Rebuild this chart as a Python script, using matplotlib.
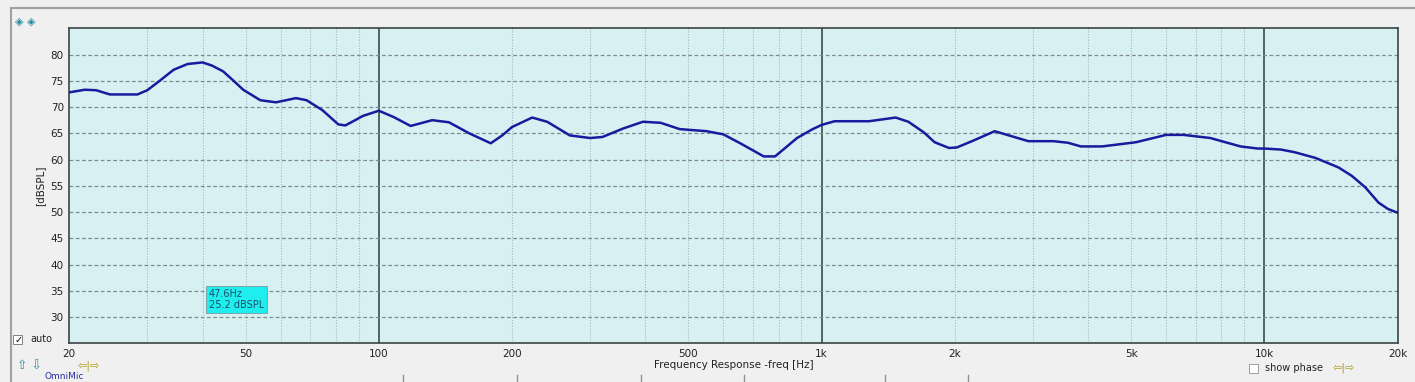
import matplotlib.pyplot as plt
from matplotlib.lines import Line2D
from matplotlib.patches import Rectangle

# frequency response
freq_hz = [20, 21.7, 23, 24.7, 28.5, 30, 32, 34.4, 37, 40, 42, 44.5, 47, 49.4, 54,
           58.6, 65, 68.7, 74.6, 81, 84, 88, 92, 100, 108, 118, 132, 144, 160, 179,
           190, 200, 222, 240, 270, 300, 320, 356, 395, 433, 478, 550, 600, 655, 740,
           785, 830, 880, 950, 1000, 1070, 1280, 1470, 1570, 1700, 1800, 1940, 2020,
           2200, 2460, 2930, 3340, 3600, 3850, 4300, 5130, 6000, 6560, 7550, 8830,
           9650, 10000, 10900, 11700, 13050, 14700, 15750, 16900, 18100, 19000,
           19800, 20000]
spl_db = [72.8, 73.3, 73.2, 72.4, 72.4, 73.2, 75.0, 77.1, 78.2, 78.5, 77.9, 76.8,
          75.0, 73.3, 71.3, 70.9, 71.7, 71.3, 69.4, 66.7, 66.5, 67.4, 68.3, 69.3,
          68.1, 66.4, 67.5, 67.1, 65.0, 63.1, 64.6, 66.2, 68.0, 67.2, 64.6, 64.1,
          64.3, 65.9, 67.2, 67.0, 65.8, 65.4, 64.8, 63.1, 60.6, 60.6, 62.3, 64.1,
          65.7, 66.6, 67.3, 67.3, 68.0, 67.2, 65.2, 63.3, 62.2, 62.3, 63.6, 65.4,
          63.5, 63.5, 63.2, 62.5, 62.5, 63.3, 64.7, 64.7, 64.1, 62.5, 62.1, 62.1,
          61.9, 61.4, 60.3, 58.5, 56.9, 54.7, 51.8, 50.6, 50.0, 49.9]

xticks = [20, 50, 100, 200, 500, 1000, 2000, 5000, 10000, 20000]
xtick_labels = ["20", "50", "100", "200", "500", "1k", "2k", "5k", "10k", "20k"]
yticks = [30, 35, 40, 45, 50, 55, 60, 65, 70, 75, 80]
major_lines = [100, 1000, 10000]
minor_lines = [m * d for d in (10, 100, 1000) for m in range(2, 10)
               if 20 < m * d < 20000]

W, H = 1415, 382
fig = plt.figure(figsize=(W / 100, H / 100), dpi=100, facecolor="#f0f0f0")
ax = fig.add_axes([69.3 / W, 1 - 343.3 / H, (1397.7 - 69.3) / W, (343.3 - 28.3) / H])
ax.set_facecolor("#d7f1f3")

ax.set_xscale("log")
ax.set_xlim(20, 20000)
ax.set_ylim(25, 85)

for f in minor_lines:
    ax.axvline(f, color="#a9b4b8", lw=0.8, ls=(0, (1, 1.5)), zorder=1)
for f in major_lines:
    ax.axvline(f, color="#2e3c3c", lw=1.1, zorder=1)
for v in yticks:
    ax.axhline(v, color="#7f8a8e", lw=0.9, ls=(0, (3, 2)), zorder=1)

ax.plot(freq_hz, spl_db, color="#1a1a9e", lw=1.8, zorder=3, solid_joinstyle="round")

ax.set_xticks(xticks)
ax.set_xticklabels(xtick_labels)
ax.minorticks_off()
ax.set_yticks(yticks)
ax.tick_params(length=0, labelsize=7.5, colors="#222222", pad=4)
for s in ax.spines.values():
    s.set_color("#3a4444")
    s.set_linewidth(1.2)
ax.set_xlabel("Frequency Response -freq [Hz]", fontsize=7.5, color="#222222", labelpad=1)
ax.set_ylabel("[dBSPL]", fontsize=7.5, color="#222222", labelpad=4)

# cursor readout
ax.text(41.3, 33.3, "47.6Hz\n25.2 dBSPL", fontsize=7, color="#1d4f6e", va="center",
        ha="left", linespacing=1.15,
        bbox=dict(boxstyle="square,pad=0.3", fc="#20eeee", ec="#7a9aa0", lw=0.6),
        zorder=5)

# window frame and widgets
fig.add_artist(Line2D([11 / W, 1.0], [1 - 8 / H, 1 - 8 / H], color="#a0a0a0", lw=1.5))
fig.add_artist(Line2D([11 / W, 11 / W], [0, 1 - 8 / H], color="#a0a0a0", lw=1.5))
fig.add_artist(Rectangle((13 / W, 1 - 344 / H), 9 / W, 9 / H, fc="white", ec="#707070", lw=0.6))
fig.text(14.5 / W, 1 - 340 / H, "✓", fontsize=7, color="black", va="center")
fig.text(30 / W, 1 - 339.5 / H, "auto", fontsize=7, color="#222222", va="center")
fig.add_artist(Rectangle((1249 / W, 1 - 373 / H), 9 / W, 9 / H, fc="white", ec="#909090", lw=0.6))
fig.text(1265 / W, 1 - 368 / H, "show phase", fontsize=7, color="#222222", va="center")
fig.text(1333 / W, 1 - 368 / H, "⇦|⇨", fontsize=8, color="#b0a020", va="center")
fig.text(78 / W, 1 - 366 / H, "⇦|⇨", fontsize=8, color="#b0a020", va="center")
fig.text(17 / W, 1 - 366 / H, "⇧ ⇩", fontsize=9, color="#2a8aa0", va="center")
fig.text(15 / W, 1 - 22 / H, "◈ ◈", fontsize=8, color="#2a8aa0", va="center")
fig.text(45 / W, 0.003, "OmniMic", fontsize=6.5, color="#2a2aa0", va="bottom")
for x0, x1 in [(403, 517), (641, 744), (885, 968)]:
    fig.add_artist(Line2D([x0 / W, x0 / W], [0, 1 - 375 / H], color="#909090", lw=1))
    fig.add_artist(Line2D([x1 / W, x1 / W], [0, 1 - 375 / H], color="#909090", lw=1))

fig.savefig("out.png", dpi=100, facecolor=fig.get_facecolor())
